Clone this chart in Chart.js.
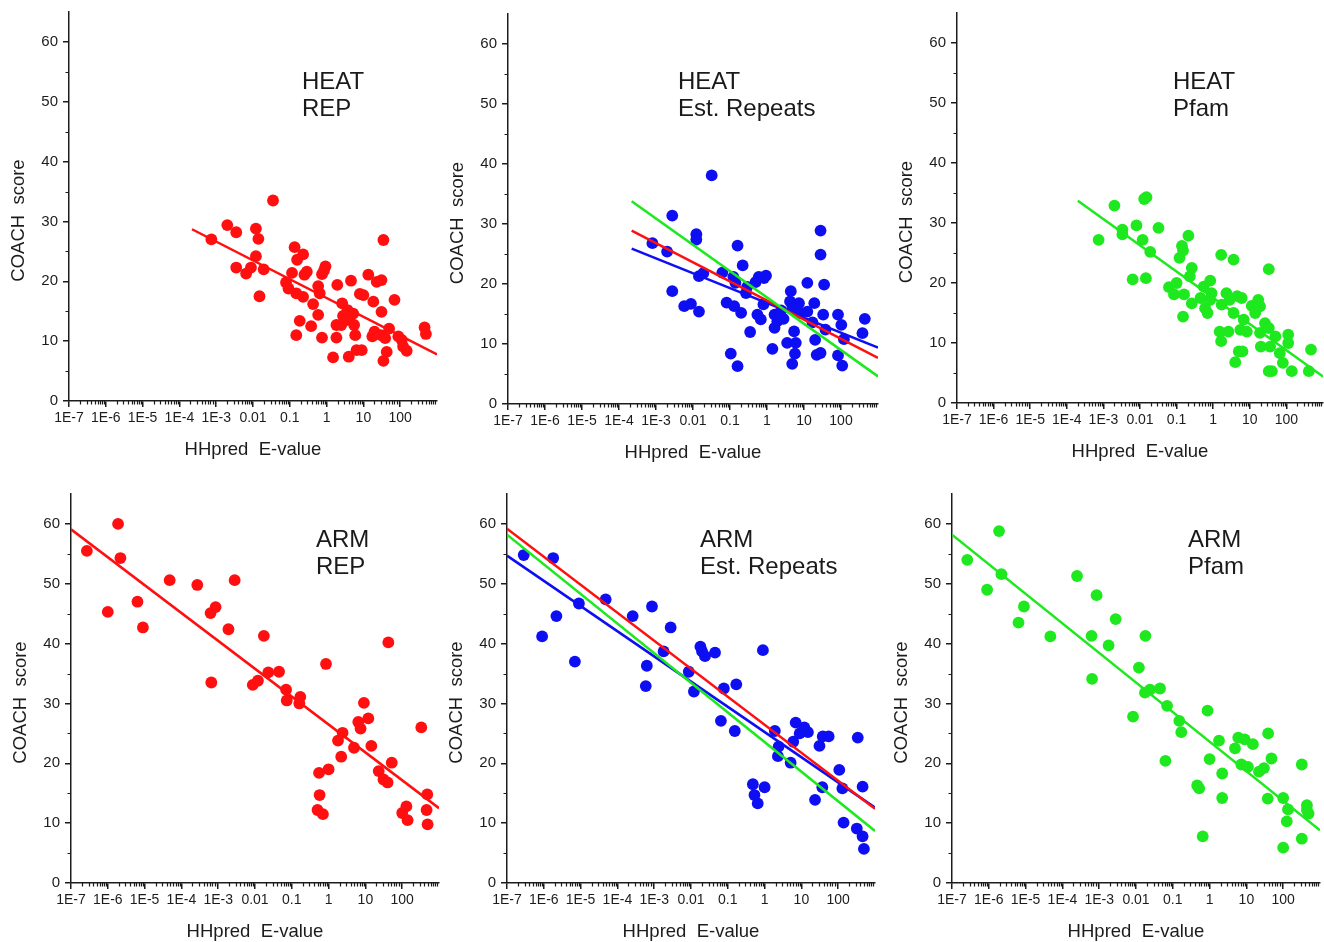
<!DOCTYPE html>
<html><head><meta charset="utf-8">
<script src="https://cdn.jsdelivr.net/npm/chart.js@4.4.1/dist/chart.umd.min.js"></script>
<style>
html,body{margin:0;padding:0;background:#fff;overflow:hidden;width:1324px;height:942px;position:relative;}
canvas{position:absolute;}
</style></head><body>
<script>
// ---- axis ticks ----
const xTickValues = [1e-7,1e-6,1e-5,1e-4,1e-3,1e-2,1e-1,1,10,100];
const xTickLabels = ['1E-7','1E-6','1E-5','1E-4','1E-3','0.01','0.1','1','10','100'];
const yTickValues = [0,10,20,30,40,50,60];
const yTickLabels = ['0','10','20','30','40','50','60'];

// ---- data: [E-value, COACH score] ----
const heatRepPoints = [[7.4e-4,27.0],[2.0e-3,29.4],[3.5e-3,28.2],[3.5e-3,22.3],[6.5e-3,21.3],[8.8e-3,22.3],[1.2e-2,28.8],[1.4e-2,27.1],[1.2e-2,24.2],[1.5e-2,17.5],[1.95e-2,22.0],[3.5e-2,33.5],[0.079,19.8],[0.092,18.8],[0.115,21.4],[0.135,25.7],[0.158,23.6],[0.15,18.0],[0.15,11.0],[0.186,13.4],[0.23,24.5],[0.25,21.1],[0.29,21.6],[0.23,17.4],[0.43,16.2],[0.38,12.5],[0.59,19.2],[0.65,18.0],[0.59,14.4],[0.75,10.6],[0.75,21.2],[0.93,22.5],[0.85,21.8],[1.5,7.3],[1.85,10.6],[1.85,12.7],[1.95,19.4],[2.65,16.3],[2.8,14.2],[2.5,12.7],[3.3,13.5],[3.7,15.2],[4.0,7.4],[4.6,20.1],[4.3,14.1],[5.3,14.6],[5.6,12.7],[6.0,11.0],[6.5,8.5],[9,8.5],[10,17.7],[8,17.9],[13.6,21.1],[18.6,16.6],[17.5,10.8],[20,11.6],[23,19.9],[31,20.2],[35,26.9],[31,14.9],[30,11.0],[35,6.7],[43,8.2],[39,10.5],[50,12.1],[70,16.9],[89,10.8],[110,10.2],[120,9.1],[150,8.4],[460,12.3],[500,11.2]];
const heatRepFitX = [2.2e-4, 1000];
const heatRepFitY = [28.7, 7.8];

const heatEstPoints = [[8e-4,26.8],[2.0e-3,25.4],[2.75e-3,31.4],[2.75e-3,18.8],[5.8e-3,16.3],[8.8e-3,16.7],[1.23e-2,28.3],[1.23e-2,27.4],[1.45e-2,15.4],[1.45e-2,21.3],[1.9e-2,21.8],[0.032,38.1],[0.062,21.9],[0.081,16.9],[0.105,8.4],[0.123,21.2],[0.14,20.2],[0.13,16.3],[0.16,26.4],[0.16,6.3],[0.2,15.2],[0.22,23.1],[0.27,18.5],[0.29,19.5],[0.35,12.0],[0.49,20.3],[0.55,14.9],[0.6,21.2],[0.68,14.1],[0.8,16.6],[0.83,21.0],[0.94,21.4],[1.4,9.2],[1.6,14.9],[1.6,12.7],[1.9,13.8],[2.4,15.6],[2.8,14.2],[3.5,10.2],[4.4,18.8],[4.2,17.1],[4.8,6.7],[5.4,12.1],[6.0,10.2],[5.7,8.4],[4.8,16.0],[7.3,16.8],[8,15.2],[12.3,20.2],[12.3,15.4],[17,13.6],[19,16.8],[20,10.7],[22,8.2],[28,28.9],[28,24.9],[35,19.9],[28,8.5],[33,14.9],[38,12.4],[83,14.9],[83,8.1],[102,13.2],[108,6.4],[120,10.8],[380,11.8],[440,14.2]];
const heatEstFitX = [2.2e-4, 1000];
const heatEstFitRedY = [28.9, 7.7];
const heatEstFitBlueY = [25.9, 9.4];
const heatEstFitGreenY = [33.8, 4.6];

const heatPfamPoints = [[7.4e-4,27.2],[2e-3,32.9],[3.3e-3,28.9],[3.3e-3,28.1],[6.3e-3,20.6],[8e-3,29.6],[1.18e-2,27.2],[1.3e-2,34.0],[1.5e-2,34.3],[1.45e-2,20.8],[1.9e-2,25.2],[0.032,29.2],[0.062,19.3],[0.085,18.1],[0.1,20.0],[0.12,24.2],[0.14,26.2],[0.15,25.4],[0.15,14.4],[0.16,18.1],[0.21,27.9],[0.23,21.1],[0.26,22.5],[0.26,16.6],[0.45,17.5],[0.55,19.4],[0.6,15.8],[0.7,15.0],[0.83,20.4],[0.83,17.2],[0.9,18.3],[1.65,24.7],[1.5,11.9],[1.65,10.3],[1.7,16.4],[2.3,18.3],[2.6,11.9],[2.8,17.2],[3.6,23.9],[3.6,15.0],[4.0,6.8],[4.5,17.8],[5.0,8.6],[6.0,17.5],[5.5,12.2],[6.8,13.9],[6.3,8.6],[8.3,11.9],[11.3,16.2],[14,15.0],[17,17.2],[19,16.1],[19,11.7],[20,9.4],[26,13.3],[33,22.3],[33,12.5],[33,5.3],[40,5.3],[36,9.4],[50,11.1],[66,8.3],[80,6.7],[112,11.4],[112,10.0],[140,5.3],[410,5.3],[470,8.9]];
const heatPfamFitX = [2.0e-4, 1000];
const heatPfamFitY = [33.7, 4.4];

const armRepPoints = [[2.7e-7,55.5],[1e-6,45.3],[1.9e-6,60.0],[2.2e-6,54.3],[6.4e-6,47.0],[9e-6,42.7],[4.8e-5,50.6],[2.7e-4,49.8],[6.2e-4,45.1],[8.5e-4,46.1],[6.5e-4,33.5],[1.9e-3,42.4],[2.8e-3,50.6],[8.7e-3,33.1],[1.2e-2,33.8],[1.74e-2,41.3],[2.3e-2,35.2],[0.045,35.3],[0.07,32.3],[0.073,30.5],[0.17,31.1],[0.16,30.0],[0.55,18.4],[0.57,14.7],[0.5,12.2],[0.7,11.5],[0.85,36.6],[1.0,19.0],[1.8,23.8],[2.4,25.1],[2.2,21.1],[4.9,22.6],[6.4,26.9],[7.4,25.8],[9.1,30.1],[12,27.5],[14.5,22.9],[23,18.7],[31,17.3],[40,16.8],[42,40.2],[52,20.1],[100,11.7],[130,12.8],[140,10.5],[330,26.0],[480,14.8],[460,12.2],[490,9.8]];
const armRepFitX = [1e-7, 1000];
const armRepFitY = [59.1, 12.5];

const armEstPoints = [[2.85e-7,54.8],[9e-7,41.2],[1.8e-6,54.3],[2.2e-6,44.6],[7e-6,37.0],[9e-6,46.7],[4.8e-5,47.4],[2.6e-4,44.6],[6.3e-4,36.3],[5.9e-4,32.9],[8.7e-4,46.2],[1.8e-3,38.7],[2.8e-3,42.7],[8.7e-3,35.3],[1.2e-2,32.0],[1.8e-2,39.5],[2e-2,38.7],[2.4e-2,37.9],[0.045,38.5],[0.065,27.1],[0.078,32.5],[0.155,25.4],[0.17,33.2],[0.48,16.5],[0.53,14.7],[0.65,13.3],[0.9,38.9],[1.0,16.0],[1.9,25.4],[2.3,21.2],[2.4,22.8],[5.1,20.1],[6.0,23.6],[7.0,26.8],[9,25.0],[12,26.0],[15,25.2],[23.5,13.9],[31,22.9],[37,16.0],[38,24.5],[55,24.5],[107,18.9],[130,15.8],[140,10.1],[340,24.3],[320,9.1],[460,16.1],[460,7.8],[500,5.7]];
const armEstFitX = [1e-7, 1000];
const armEstFitRedY = [59.2, 12.4];
const armEstFitBlueY = [54.7, 12.6];
const armEstFitGreenY = [58.2, 8.7];

const armPfamPoints = [[2.6e-7,54.0],[9e-7,49.0],[1.9e-6,58.8],[2.2e-6,51.6],[6.4e-6,43.5],[9e-6,46.2],[4.7e-5,41.2],[2.5e-4,51.3],[6.2e-4,41.3],[6.4e-4,34.1],[8.5e-4,48.1],[1.8e-3,39.7],[2.8e-3,44.1],[8.3e-3,27.8],[1.2e-2,36.0],[1.8e-2,41.3],[1.75e-2,31.8],[2.4e-2,32.3],[0.045,32.5],[0.07,29.6],[0.063,20.4],[0.15,27.1],[0.17,25.2],[0.46,16.3],[0.52,15.8],[0.65,7.8],[0.88,28.8],[1.0,20.7],[1.8,23.8],[2.2,18.3],[2.2,14.2],[4.9,22.5],[6,24.3],[7.3,19.8],[9,24.0],[11,19.4],[15,23.2],[22,18.6],[30,19.2],[38,14.1],[39,25.0],[48,20.8],[100,14.2],[125,10.3],[135,12.3],[100,5.9],[320,19.8],[320,7.4],[440,13.0],[490,11.6],[440,12.2]];
const armPfamFitX = [1e-7, 1000];
const armPfamFitY = [58.2, 8.8];

// ---- styling / layout ----
const FONT = "'Liberation Sans', Arial, Helvetica, sans-serif";
const TEXT = '#1c1c1c';
const RED = '#ff0f0f', BLUE = '#0e0ef2', GREEN = '#1ee81e';
const PAD_L = 69, PAD_T = 14, PAD_R = 8, PAD_B = 70;

const panels = [
  {rect:[69,12,437,401],  label:['HEAT','REP'],          lpos:[302,89],  pts:heatRepPoints,  color:RED,
   fits:[{x:heatRepFitX, y:heatRepFitY, c:RED}]},
  {rect:[508,14,878,404], label:['HEAT','Est. Repeats'], lpos:[678,89],  pts:heatEstPoints,  color:BLUE,
   fits:[{x:heatEstFitX, y:heatEstFitGreenY, c:GREEN},{x:heatEstFitX, y:heatEstFitRedY, c:RED},{x:heatEstFitX, y:heatEstFitBlueY, c:BLUE}]},
  {rect:[957,13,1323,403],label:['HEAT','Pfam'],         lpos:[1173,89], pts:heatPfamPoints, color:GREEN,
   fits:[{x:heatPfamFitX, y:heatPfamFitY, c:GREEN}]},
  {rect:[71,494,439,883], label:['ARM','REP'],           lpos:[316,547], pts:armRepPoints,   color:RED,
   fits:[{x:armRepFitX, y:armRepFitY, c:RED}]},
  {rect:[507,494,875,883],label:['ARM','Est. Repeats'],  lpos:[700,547], pts:armEstPoints,   color:BLUE,
   fits:[{x:armEstFitX, y:armEstFitGreenY, c:GREEN},{x:armEstFitX, y:armEstFitRedY, c:RED},{x:armEstFitX, y:armEstFitBlueY, c:BLUE}]},
  {rect:[952,494,1320,883],label:['ARM','Pfam'],         lpos:[1188,547],pts:armPfamPoints,  color:GREEN,
   fits:[{x:armPfamFitX, y:armPfamFitY, c:GREEN}]}
];

const decor = {
  id: 'decor',
  afterDraw(chart) {
    const {ctx, chartArea: a, scales: {x, y}} = chart;
    const o = chart.options.plugins.decor;
    ctx.save();
    ctx.strokeStyle = TEXT; ctx.lineWidth = 1.2;
    ctx.beginPath();
    for (let d = -7; d < 3; d++) {
      for (let m = 2; m <= 9; m++) {
        const px = Math.round(x.getPixelForValue(m * Math.pow(10, d))) + 0.5;
        ctx.moveTo(px, a.bottom); ctx.lineTo(px, a.bottom + 3.5);
      }
    }
    for (let v = 5; v < 65; v += 10) {
      const py = Math.round(y.getPixelForValue(v)) + 0.5;
      ctx.moveTo(a.left - 3.5, py); ctx.lineTo(a.left, py);
    }
    ctx.stroke();
    ctx.fillStyle = TEXT;
    ctx.font = '18.5px ' + FONT;
    ctx.textAlign = 'center'; ctx.textBaseline = 'middle';
    ctx.translate(a.left - 50, (a.top + a.bottom) / 2 + 14);
    ctx.rotate(-Math.PI / 2);
    ctx.fillText('COACH  score', 0, 0);
    ctx.restore();
    ctx.save();
    ctx.fillStyle = '#1a1a1a';
    ctx.font = '24px ' + FONT;
    ctx.textAlign = 'left'; ctx.textBaseline = 'alphabetic';
    o.lines.forEach((t, i) => ctx.fillText(t, o.lx, o.ly + i * 27));
    ctx.restore();
  }
};

panels.forEach(p => {
  const [L, T, R, B] = p.rect;
  const cl = L - PAD_L, ct = T - PAD_T;
  const w = R - L + PAD_L + PAD_R, h = B - T + PAD_T + PAD_B;
  const cv = document.createElement('canvas');
  cv.width = w; cv.height = h;
  cv.style.left = cl + 'px'; cv.style.top = ct + 'px';
  cv.style.width = w + 'px'; cv.style.height = h + 'px';
  document.body.appendChild(cv);

  const datasets = p.fits.map(f => ({
    data: f.x.map((v, i) => ({x: v, y: f.y[i]})),
    showLine: true, borderColor: f.c, borderWidth: 2.5, pointRadius: 0, pointHoverRadius: 0, fill: false
  }));
  datasets.push({
    data: p.pts.map(q => ({x: q[0], y: q[1]})),
    backgroundColor: p.color, borderWidth: 0, pointRadius: 5.9, pointHoverRadius: 5.9
  });

  const gridOpts = {drawOnChartArea: false, drawTicks: true, tickLength: 6, color: TEXT, lineWidth: 1.5};
  const borderOpts = {display: true, color: TEXT, width: 1.5};

  new Chart(cv, {
    type: 'scatter',
    data: {datasets},
    options: {
      responsive: false, animation: false, devicePixelRatio: 1, events: [],
      layout: {padding: {top: PAD_T, right: PAD_R, left: 0, bottom: 0}},
      plugins: {
        legend: {display: false}, tooltip: {enabled: false},
        decor: {lines: p.label, lx: p.lpos[0] - cl, ly: p.lpos[1] - ct}
      },
      scales: {
        x: {
          type: 'logarithmic', min: 1e-7, max: 1000,
          afterBuildTicks: s => { s.ticks = xTickValues.map(v => ({value: v})); },
          afterFit: s => { s.height = PAD_B; },
          ticks: {callback: (v, i) => xTickLabels[i], autoSkip: false, maxRotation: 0, minRotation: 0,
                  font: {family: FONT, size: 14}, color: TEXT, padding: 3},
          grid: gridOpts, border: borderOpts,
          title: {display: true, text: 'HHpred  E-value', color: TEXT,
                  font: {family: FONT, size: 18.5}, padding: {top: 0, bottom: 10}}
        },
        y: {
          type: 'linear', min: 0, max: 65,
          afterBuildTicks: s => { s.ticks = yTickValues.map(v => ({value: v})); },
          afterFit: s => { s.width = PAD_L; },
          ticks: {callback: (v, i) => yTickLabels[i], font: {family: FONT, size: 15}, color: TEXT, padding: 5},
          grid: gridOpts, border: borderOpts
        }
      }
    },
    plugins: [decor]
  });
});
</script>
</body></html>
